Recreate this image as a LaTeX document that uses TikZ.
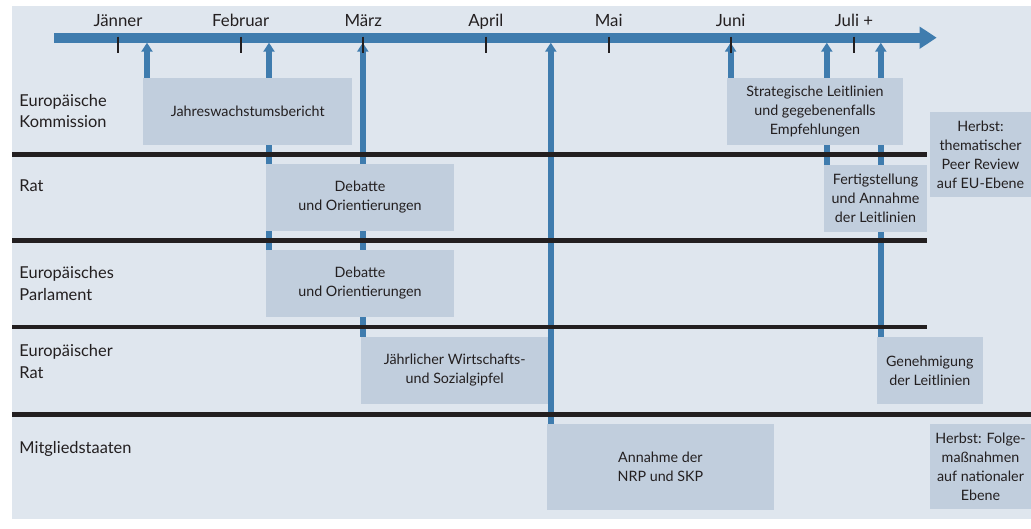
\documentclass[tikz,border=0pt]{standalone}
\usepackage{fontspec}
\setmainfont{Lato}
\usetikzlibrary{arrows.meta}
\definecolor{bgc}{HTML}{DFE6EE}
\definecolor{boxc}{HTML}{C1CEDD}
\definecolor{blu}{HTML}{3F7CAE}
\definecolor{blk}{HTML}{231F20}
\newcommand\boxfont{\fontsize{14.3}{19}\selectfont}
\newcommand\rowfont{\fontsize{16.4}{21.7}\selectfont}
\newcommand\monfont{\fontsize{16.8}{19}\selectfont}
\begin{document}
\begin{tikzpicture}[x=1pt,y=-1pt,
  box/.style={fill=boxc, inner sep=0pt, align=center, font=\boxfont, text=blk},
  rowlabel/.style={anchor=base west, inner sep=0pt, font=\rowfont, text=blk},
  month/.style={anchor=base, inner sep=0pt, font=\monfont, text=blk},
  varrow/.style={draw=blu, line width=6pt, -{Triangle[length=9pt,width=11pt]}},
  bar/.style={draw=blu, line width=10pt, -{Triangle[length=17pt,width=21pt]}},
  tickmark/.style={draw=blk, line width=2pt},
  sep/.style={draw=blk, line width=4.5pt}]
\useasboundingbox (0,0) rectangle (1031,528);
\fill[bgc] (12,6) rectangle (1031,519);
% coordinates on the timeline bar
\coordinate (tlstart) at (54,37.7);
\coordinate (tlend) at (936.7,37.7);
\coordinate (a1) at (147,42.7);
\coordinate (a2) at (269,42.7);
\coordinate (a3) at (362.8,42.7);
\coordinate (a4) at (550.8,42.7);
\coordinate (a5) at (730.6,42.7);
\coordinate (a6) at (826.8,42.7);
\coordinate (a7) at (880.8,42.7);
% box centres
\path
  (247.7,111.3) coordinate (c1)
  (360,197.3) coordinate (c2)
  (360,283.3) coordinate (c3)
  (454.7,370.5) coordinate (c4)
  (815,111.3) coordinate (c5)
  (980.5,154.7) coordinate (c6)
  (875.5,198.3) coordinate (c7)
  (929.8,370.5) coordinate (c8)
  (660.4,466.8) coordinate (c9)
  (980.5,466.8) coordinate (c10);
% invisible placeholders giving the box geometry for the arrows
\path (c1) node[minimum width=208.7pt, minimum height=66.7pt, inner sep=0pt] (g1) {};
\path (c3) node[minimum width=188pt, minimum height=66.7pt, inner sep=0pt] (g3) {};
\path (c4) node[minimum width=187.3pt, minimum height=66.4pt, inner sep=0pt] (g4) {};
\path (c5) node[minimum width=176.1pt, minimum height=66.7pt, inner sep=0pt] (g5) {};
\path (c7) node[minimum width=102.9pt, minimum height=66.7pt, inner sep=0pt] (g7) {};
\path (c8) node[minimum width=105.8pt, minimum height=66.4pt, inner sep=0pt] (g8) {};
\path (c9) node[minimum width=226.5pt, minimum height=85.7pt, inner sep=0pt] (g9) {};
% vertical arrows
\draw[varrow] (g1.north -| a1) -- (a1);
\draw[varrow] (g3.north -| a2) -- (a2);
\draw[varrow] (g4.north -| a3) -- (a3);
\draw[varrow] (g9.north -| a4) -- (a4);
\draw[varrow] (g5.north -| a5) -- (a5);
\draw[varrow] (g7.north -| a6) -- (a6);
\draw[varrow] (g8.north -| a7) -- (a7);
% timeline
\draw[bar] (tlstart) -- (tlend);
\foreach \x/\m [count=\i] in {118/Jänner,240.6/Februar,363.2/März,485.8/April,608.7/Mai,730.6/Juni,853.9/Juli +}{
  \draw[tickmark] (\x,36.7) -- (\x,52.7);
  \node[month] (mon\i) at (\x,26) {\m};
}
% row separators
\draw[sep] (12,154.3) -- (926.7,154.3);
\draw[sep] (12,240.5) -- (926.7,240.5);
\draw[sep] (12,327.2) -- (926.7,327.2);
\draw[sep] (12,414.5) -- (1031,414.5);
% row labels
\node[rowlabel] (r1) at (19.3,106) {\begin{tabular}[t]{@{}l@{}}Europäische\\Kommission\end{tabular}};
\node[rowlabel] (r2) at (19.3,191.7) {Rat};
\node[rowlabel] (r3) at (19.3,278.3) {\begin{tabular}[t]{@{}l@{}}Europäisches\\Parlament\end{tabular}};
\node[rowlabel] (r4) at (19.3,356.7) {\begin{tabular}[t]{@{}l@{}}Europäischer\\Rat\end{tabular}};
\node[rowlabel] (r5) at (19.3,453.3) {Mitgliedstaaten};
% boxes
\node[box, minimum width=208.7pt, minimum height=66.7pt] (b1) at (c1) {Jahreswachstumsbericht};
\node[box, minimum width=188pt, minimum height=66.7pt] (b2) at (c2) {Debatte\\und Orientierungen};
\node[box, minimum width=188pt, minimum height=66.7pt] (b3) at (c3) {Debatte\\und Orientierungen};
\node[box, minimum width=187.3pt, minimum height=66.4pt] (b4) at (c4) {Jährlicher Wirtschafts-\\und Sozialgipfel};
\node[box, minimum width=176.1pt, minimum height=66.7pt] (b5) at (c5) {Strategische Leitlinien\\und gegebenenfalls\\Empfehlungen};
\node[box, minimum width=101pt, minimum height=85.3pt] (b6) at (c6) {Herbst:\\thematischer\\Peer Review\\auf EU-Ebene};
\node[box, minimum width=102.9pt, minimum height=66.7pt] (b7) at (c7) {Fertigstellung\\und Annahme\\der Leitlinien};
\node[box, minimum width=105.8pt, minimum height=66.4pt] (b8) at (c8) {Genehmigung\\der Leitlinien};
\node[box, minimum width=226.5pt, minimum height=85.7pt] (b9) at (c9) {Annahme der\\NRP und SKP};
\node[box, minimum width=101pt, minimum height=85.3pt] (b10) at (c10) {Herbst: Folge-\\maßnahmen\\auf nationaler\\Ebene};
\end{tikzpicture}
\end{document}
